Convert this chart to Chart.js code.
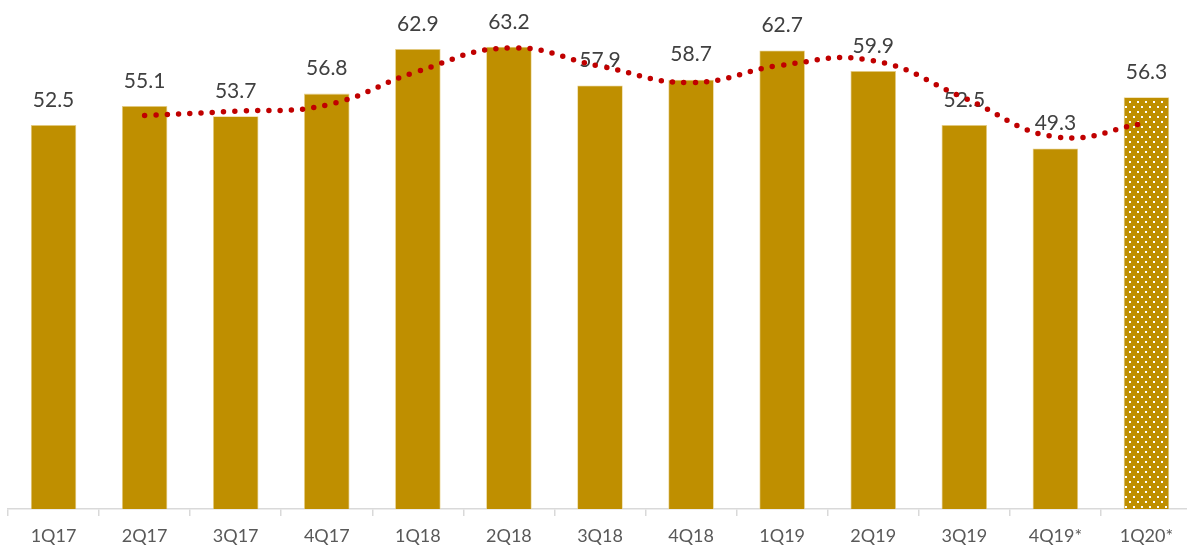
<!DOCTYPE html>
<html>
<head>
<meta charset="utf-8">
<script src="https://cdn.jsdelivr.net/npm/chart.js@4/dist/chart.umd.min.js"></script>
<style>
html,body{margin:0;padding:0;background:#fff;overflow:hidden;width:1187px;height:549px;}
#wrap{width:1192px;height:549px;position:relative;}
</style>
</head>
<body>
<div id="wrap"><canvas id="c"></canvas></div>
<script>
const categories = ['1Q17','2Q17','3Q17','4Q17','1Q18','2Q18','3Q18','4Q18','1Q19','2Q19','3Q19','4Q19*','1Q20*'];
const values = [52.5, 55.1, 53.7, 56.8, 62.9, 63.2, 57.9, 58.7, 62.7, 59.9, 52.5, 49.3, 56.3];
const trendValues = [null, 53.8, 54.4, 55.25, 59.85, 63.05, 60.55, 58.3, 60.7, 61.3, 56.2, 50.9, 52.8];

const GOLD = '#BF8F00';

function makePattern() {
  const t = document.createElement('canvas');
  t.width = 8; t.height = 10;
  const g = t.getContext('2d');
  g.fillStyle = GOLD; g.fillRect(0,0,8,10);
  g.fillStyle = '#ffffff';
  g.fillRect(1,1,2,2);
  g.fillRect(5,6,2,2);
  return g.createPattern(t, 'repeat');
}
const ctx = document.getElementById('c').getContext('2d');
const pattern = makePattern();
const barColors = values.map((v,i) => i === values.length - 1 ? pattern : GOLD);

const labelPlugin = {
  id: 'valLabels',
  beforeDatasetsDraw(chart) {
    const meta = chart.getDatasetMeta(1);
    const c = chart.ctx;
    c.save();
    c.font = '21px Lato';
    c.fillStyle = '#404040';
    c.textAlign = 'center';
    c.textBaseline = 'middle';
    meta.data.forEach((el, i) => {
      c.fillText(values[i].toFixed(1), el.x, el.y - 25);
    });
    c.restore();
  }
};

new Chart(ctx, {
  data: {
    labels: categories,
    datasets: [
      {
        type: 'line',
        data: trendValues,
        borderColor: '#C00000',
        borderWidth: 5.5,
        borderDash: [0, 11.3],
        borderCapStyle: 'round',
        pointRadius: 0,
        tension: 0.45,
        fill: false,
        order: 0
      },
      {
        type: 'bar',
        data: values,
        backgroundColor: barColors,
        borderColor: '#E8D08A',
        borderWidth: 0.8,
        categoryPercentage: 1,
        barPercentage: 0.5,
        order: 1
      }
    ]
  },
  options: {
    responsive: true,
    maintainAspectRatio: false,
    animation: false,
    layout: { padding: { left: 8, right: 0, top: 0, bottom: 0 } },
    plugins: { legend: { display: false }, tooltip: { enabled: false } },
    scales: {
      x: {
        offset: true,
        afterFit: (scale) => { scale.height = 40; },
        grid: { display: true, offset: true, drawOnChartArea: false, tickLength: 7, color: '#D9D9D9', lineWidth: 1.5 },
        border: { color: '#D9D9D9', width: 1.5 },
        ticks: { color: '#595959', font: { family: 'Lato', size: 18 }, padding: 9, maxRotation: 0 }
      },
      y: {
        display: false,
        min: 0,
        max: 69.6
      }
    }
  },
  plugins: [labelPlugin]
});
</script>
</body>
</html>
